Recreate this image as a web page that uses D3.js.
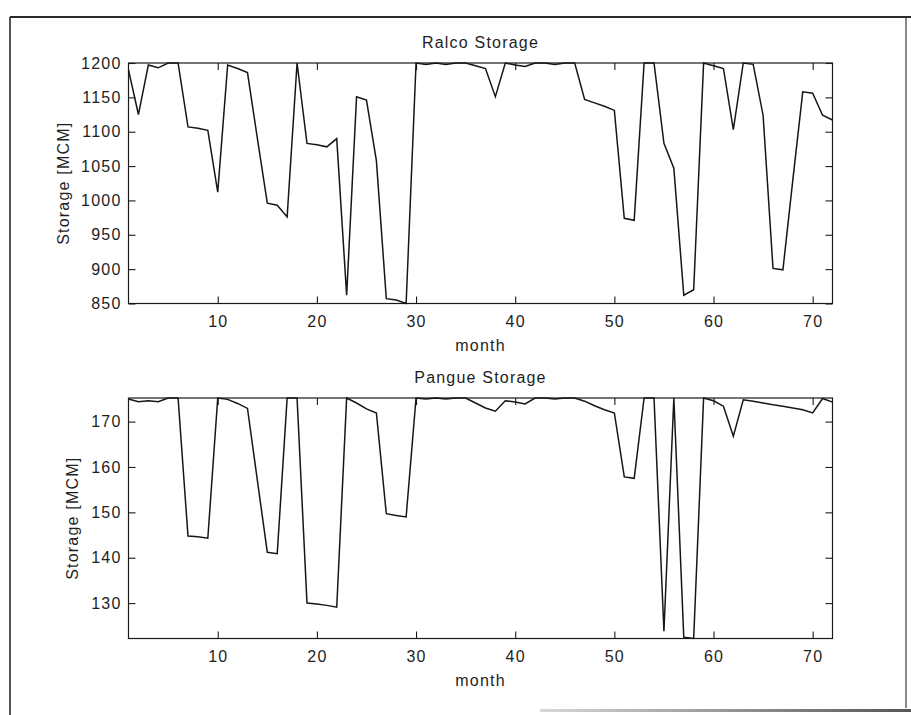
<!DOCTYPE html>
<html>
<head>
<meta charset="utf-8">
<script src="https://cdn.jsdelivr.net/npm/d3@7"></script>
<style>
  html, body { margin: 0; padding: 0; background: #ffffff; }
  svg { display: block; }
  text { font-family: "Liberation Sans", Arial, Helvetica, sans-serif; fill: #1e1e1e; }
</style>
</head>
<body>
<svg id="fig" width="911" height="715"></svg>
<script>
// Monthly reservoir storage, months 1..72
const months = d3.range(1, 73);

const ralcoStorage = [
  1190, 1125, 1197, 1193, 1200, 1200, 1107, 1105, 1102, 1012,
  1197, 1192, 1186, 1090,  996,  993,  976, 1200, 1083, 1081,
  1078, 1090,  862, 1151, 1146, 1058,  857,  855,  850, 1200,
  1198, 1200, 1198, 1200, 1200, 1196, 1192, 1151, 1200, 1197,
  1195, 1200, 1200, 1198, 1200, 1200, 1147, 1142, 1137, 1131,
   974,  971, 1200, 1200, 1083, 1047,  862,  870, 1200, 1196,
  1192, 1103, 1200, 1198, 1124,  901,  899, 1030, 1158, 1156,
  1124, 1117
];

const pangueStorage = [
  175.0, 174.4, 174.6, 174.4, 175.2, 175.2, 144.8, 144.6, 144.3, 175.2,
  174.9, 174.0, 172.9, 157.0, 141.2, 140.9, 175.2, 175.2, 130.0, 129.8,
  129.5, 129.1, 175.2, 174.1, 172.8, 171.9, 149.7, 149.3, 149.0, 175.2,
  175.0, 175.2, 175.0, 175.2, 175.2, 174.1, 173.0, 172.3, 174.6, 174.3,
  173.9, 175.2, 175.2, 175.0, 175.2, 175.2, 174.5, 173.5, 172.6, 171.9,
  157.8, 157.5, 175.2, 175.2, 123.8, 175.2, 122.5, 122.2, 175.2, 174.6,
  173.4, 166.8, 174.8, 174.5, 174.1, 173.7, 173.4, 173.0, 172.6, 171.9,
  175.1, 174.3
];

const monthTicks = [10, 20, 30, 40, 50, 60, 70];
const ralcoTicks = [850, 900, 950, 1000, 1050, 1100, 1150, 1200];
const pangueTicks = [130, 140, 150, 160, 170];

const ralcoLimits = [850, 1200];
const pangueLimits = [122.2, 175.2];

const svg = d3.select("#fig");
const FONT = 16, LS = "1.2px";

// figure frame
const frame = svg.append("g").attr("fill", "none");
frame.append("line").attr("x1", 10).attr("y1", 17).attr("x2", 911).attr("y2", 17)
  .attr("stroke", "#2a2a2a").attr("stroke-width", 2.2);
frame.append("line").attr("x1", 10).attr("y1", 17).attr("x2", 10).attr("y2", 715)
  .attr("stroke", "#2a2a2a").attr("stroke-width", 1.6);
frame.append("line").attr("x1", 906).attr("y1", 17).attr("x2", 906).attr("y2", 708)
  .attr("stroke", "#3a3a3a").attr("stroke-width", 1.2);
const grad = svg.append("defs").append("linearGradient").attr("id", "fade")
  .attr("x1", "0%").attr("x2", "100%");
grad.append("stop").attr("offset", "0%").attr("stop-color", "#d8d8d8");
grad.append("stop").attr("offset", "100%").attr("stop-color", "#555555");
svg.append("rect").attr("x", 540).attr("y", 709).attr("width", 371).attr("height", 3)
  .attr("fill", "url(#fade)");

const x = d3.scaleLinear().domain([1, 72]).range([128.5, 832.5]);

function panel(cfg) {
  const y = d3.scaleLinear().domain(cfg.limits).range([cfg.bottom, cfg.top]);
  const g = svg.append("g");
  const tick = 7;

  // box
  g.append("rect")
    .attr("x", x.range()[0]).attr("y", cfg.top)
    .attr("width", x.range()[1] - x.range()[0]).attr("height", cfg.bottom - cfg.top)
    .attr("fill", "none").attr("stroke", "#1a1a1a").attr("stroke-width", 1.2);

  const styleAxis = sel => {
    sel.select(".domain").remove();
    sel.selectAll(".tick line").attr("stroke", "#1a1a1a").attr("stroke-width", 1.1);
    sel.selectAll("text").attr("font-size", FONT).attr("letter-spacing", LS)
      .attr("fill", "#1e1e1e").attr("font-family", null);
  };

  g.append("g").attr("transform", `translate(0,${cfg.bottom})`)
    .call(d3.axisBottom(x).tickValues(monthTicks).tickSize(-tick).tickPadding(cfg.xPad))
    .call(styleAxis);
  g.append("g").attr("transform", `translate(0,${cfg.top})`)
    .call(d3.axisTop(x).tickValues(monthTicks).tickSize(-tick).tickFormat(""))
    .call(styleAxis);
  g.append("g").attr("transform", `translate(${x.range()[0]},0)`)
    .call(d3.axisLeft(y).tickValues(cfg.ticks).tickSize(-tick).tickPadding(7).tickFormat(d3.format("d")))
    .call(styleAxis);
  g.append("g").attr("transform", `translate(${x.range()[1]},0)`)
    .call(d3.axisRight(y).tickValues(cfg.ticks).tickSize(-tick).tickFormat(""))
    .call(styleAxis);

  // storage trace
  g.append("path")
    .datum(months.map((m, i) => [m, cfg.values[i]]))
    .attr("fill", "none").attr("stroke", "#161616").attr("stroke-width", 1.5)
    .attr("stroke-linejoin", "miter")
    .attr("d", d3.line().x(d => x(d[0])).y(d => y(d[1])));

  const cx = (x.range()[0] + x.range()[1]) / 2;
  g.append("text").attr("x", cx).attr("y", cfg.top - 15)
    .attr("text-anchor", "middle").attr("font-size", FONT).attr("letter-spacing", LS)
    .text(cfg.title);
  g.append("text").attr("x", cx).attr("y", cfg.bottom + 47)
    .attr("text-anchor", "middle").attr("font-size", FONT).attr("letter-spacing", LS)
    .text("month");
  g.append("text")
    .attr("transform", `translate(${cfg.ylabelX},${(cfg.top + cfg.bottom) / 2}) rotate(-90)`)
    .attr("text-anchor", "middle").attr("font-size", FONT).attr("letter-spacing", LS)
    .text("Storage [MCM]");
}

panel({ title: "Ralco Storage", values: ralcoStorage, limits: ralcoLimits, ticks: ralcoTicks,
        top: 63, bottom: 303.5, xPad: 12, ylabelX: 69 });
panel({ title: "Pangue Storage", values: pangueStorage, limits: pangueLimits, ticks: pangueTicks,
        top: 398, bottom: 638.5, xPad: 12, ylabelX: 78 });
</script>
</body>
</html>
